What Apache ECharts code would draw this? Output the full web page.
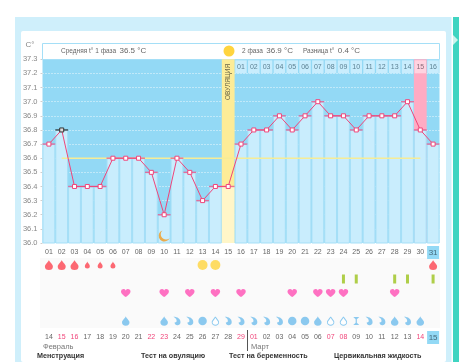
<!DOCTYPE html>
<html><head><meta charset="utf-8">
<style>html,body{margin:0;padding:0;background:#fff}#c{width:459px;height:362px}</style>
<script src="https://cdn.jsdelivr.net/npm/echarts@6/dist/echarts.min.js"></script></head>
<body><div id="c"></div>
<script>
const cycleDays=['01','02','03','04','05','06','07','08','09','10','11','12','13','14','15','16','17','18','19','20','21','22','23','24','25','26','27','28','29','30','31'];
const dates=['14','15','16','17','18','19','20','21','22','23','24','25','26','27','28','29','01','02','03','04','05','06','07','08','09','10','11','12','13','14','15'];
const weekendDates=[2,3,9,10,16,17,23,24,30];
const temps=[36.7,36.8,36.4,36.4,36.4,36.6,36.6,36.6,36.5,36.2,36.6,36.5,36.3,36.4,36.4,36.7,36.8,36.8,36.9,36.8,36.9,37.0,36.9,36.9,36.8,36.9,36.9,36.9,37.0,36.8,36.7];
const phase2Days=['01','02','03','04','05','06','07','08','09','10','11','12','13','14','15','16'];
const coverTemp=36.6, coverFrom=2, coverTo=30;
const ovulationDay=15, highlightDay=30, selectedDay=2, sleepDay=10, sleepTemp=36.05;
const rows=['mens','test','love','other','fluid'];
const mensHeavy=[1,2,3,31], mensLight=[4,5,6], ovuTest=[13,14], pregTest=[24,25,28,29,31];
const hearts=[7,10,12,14,16,20,22,23,24,28];
const fluidDrop=[7,10,22,28,30], fluidCurl=[11,12,15,16,17,18,19,26,27,29], fluidRound=[13,20,21], fluidOutline=[14,23,24], fluidStem=[25];
const yTicksMin=36.0, yTicksMax=37.3;
const legendNames=['Менструация','Тест на овуляцию','Тест на беременность','Цервикальная жидкость'];
const monthNames=['Февраль','Март'];

const FONT='"Liberation Sans",sans-serif';
const NARROW='"Liberation Sans Narrow","Liberation Sans",sans-serif';
const DROP='path://M5 0C5 2 0 6 0 9A5 5 0 0 0 10 9C10 6 5 2 5 0Z';
const HEART='path://M5 9C1 6 0 4 0 2.6A2.6 2.6 0 0 1 5 1.5A2.6 2.6 0 0 1 10 2.6C10 4 9 6 5 9Z';
const CURL='path://M0 0C6 0 10 3 10 7A4.2 4.2 0 0 1 1.6 8A4 4 0 0 0 4.5 6.5C5 4 3 1.5 0 0Z';
const MOON='path://M5 0A6.5 6.5 0 1 0 13 9A6 6 0 0 1 5 0Z';
const STEM='path://M0 0H10L6 3V8L10 11H0L4 8V3Z';
const L=42.5,W=397,T=59.3,H=183.7;

function rowSeries(days,row,symbol,size,style){
  return {type:'scatter',xAxisIndex:2,yAxisIndex:1,symbol,symbolSize:size,itemStyle:style,z:5,silent:true,
    data:days.map(d=>[d-1,row])};
}
const band=temps.map((_,i)=>(i+1===ovulationDay||i+1===highlightDay)?{value:yTicksMax,itemStyle:{color:i+1===ovulationDay?'#fdec97':'#ffabc3'}}:null);
const option={
  animation:false,
  backgroundColor:'#fff',
  grid:[
    {left:L,top:T,width:W,height:H,show:true,backgroundColor:'#93d9f5',borderColor:'#93d9f5',borderWidth:0,containLabel:false},
    {left:L,top:258,width:W,height:70,show:false}
  ],
  xAxis:[
    {type:'category',gridIndex:0,data:cycleDays,axisLine:{show:false},axisTick:{show:false},
      splitLine:{show:false},
      axisLabel:{interval:0,margin:3,hideOverlap:false,
        formatter:(v,i)=>i===30?'{h|'+v+'}':'{n|'+v+'}',
        rich:{n:{fontFamily:FONT,fontSize:7,color:'#666',height:13,lineHeight:13},
              h:{fontFamily:FONT,fontSize:8,color:'#44697a',backgroundColor:'#93d9f5',width:12,height:13,lineHeight:13,align:'center'}}}},
    {type:'category',gridIndex:0,position:'top',z:9,data:cycleDays,axisLine:{show:false},axisTick:{show:false},
      axisLabel:{inside:true,interval:0,margin:1,hideOverlap:false,
        formatter:(v,i)=>{if(i<15)return '';const t=phase2Days[i-15];return i+1===highlightDay?'{p|'+t+'}':'{c|'+t+'}';},
        rich:{c:{fontFamily:FONT,fontSize:7,color:'#5c8193',backgroundColor:'#c9edfd',width:11.5,height:13,lineHeight:13,align:'center'},
              p:{fontFamily:FONT,fontSize:7,color:'#8a6a78',backgroundColor:'#ffd3e0',width:11.5,height:13,lineHeight:13,align:'center'}}}},
    {type:'category',gridIndex:1,data:dates,axisLine:{show:false},axisTick:{show:false},
      axisLabel:{interval:0,margin:3,hideOverlap:false,
        formatter:(v,i)=>i===30?'{h|'+v+'}':(weekendDates.includes(i+1)?'{r|'+v+'}':'{n|'+v+'}'),
        rich:{n:{fontFamily:FONT,fontSize:7,color:'#666',height:13,lineHeight:13},
              r:{fontFamily:FONT,fontSize:7,color:'#f0457a',height:13,lineHeight:13},
              h:{fontFamily:FONT,fontSize:8,color:'#44697a',backgroundColor:'#93d9f5',width:12,height:13,lineHeight:13,align:'center'}}}}
  ],
  yAxis:[
    {type:'value',gridIndex:0,min:yTicksMin,max:yTicksMax,interval:0.1,
      axisLine:{show:false},axisTick:{show:true,length:2,lineStyle:{color:'#cfcfcf'}},
      splitLine:{show:true,lineStyle:{color:'#ffffff',type:[1,2],width:1,opacity:.85}},
      axisLabel:{fontFamily:NARROW,fontSize:7.5,color:'#888',margin:5,formatter:v=>v.toFixed(1)}},
    {type:'category',gridIndex:1,data:rows,inverse:true,axisLine:{show:false},axisTick:{show:false},axisLabel:{show:false},splitLine:{show:false}}
  ],
  series:[
    {type:'bar',xAxisIndex:0,yAxisIndex:0,data:band,barWidth:'100%',barGap:'-100%',z:2,silent:true},
    {type:'bar',xAxisIndex:0,yAxisIndex:0,barWidth:'100%',barGap:'-100%',z:3,silent:true,
      itemStyle:{color:'#c9edfd',borderColor:'#a5dff7',borderWidth:1},
      data:temps.map((v,i)=>i+1===ovulationDay?{value:v,itemStyle:{color:'#fff6c8',borderWidth:0}}:v)},
    {type:'line',xAxisIndex:0,yAxisIndex:0,z:4,silent:true,symbol:'none',lineStyle:{color:'#f6ec96',width:1.5},
      data:temps.map((_,i)=>(i+1>=coverFrom&&i+1<=coverTo)?coverTemp:null)},
    {type:'scatter',xAxisIndex:0,yAxisIndex:0,z:5,silent:true,symbol:'rect',symbolSize:[12.8,1.4],
      itemStyle:{color:'#e8558a'},
      data:temps.map((v,i)=>i+1===selectedDay?{value:[i,v],itemStyle:{color:'#222'}}:[i,v])},
    {type:'line',xAxisIndex:0,yAxisIndex:0,z:6,silent:true,symbol:'rect',symbolSize:4,showAllSymbol:true,
      lineStyle:{color:'#f0457a',width:1},
      itemStyle:{color:'#fff',borderColor:'#f0457a',borderWidth:1},
      data:temps.map((v,i)=>i+1===selectedDay?{value:v,itemStyle:{color:'#ddd',borderColor:'#333'}}:v)},
    {type:'scatter',xAxisIndex:0,yAxisIndex:0,z:7,silent:true,symbol:MOON,symbolSize:[11,11],
      itemStyle:{color:'#f39a1e'},data:[[sleepDay-1,sleepTemp]]},
    rowSeries(mensHeavy,'mens',DROP,[8,10],{color:'#fc4350'}),
    rowSeries(mensLight,'mens',DROP,[5,7],{color:'#fc4350'}),
    rowSeries(ovuTest,'mens','circle',10,{color:'#ffd43e'}),
    rowSeries(pregTest,'test','rect',[3,9],{color:'#9cc31d'}),
    rowSeries(hearts,'love',HEART,[9.5,8],{color:'#ff4fb4'}),
    rowSeries(fluidDrop,'fluid',DROP,[7.5,9.5],{color:'#6fbdec'}),
    rowSeries(fluidCurl,'fluid',CURL,[7,8.5],{color:'#6fbdec'}),
    rowSeries(fluidRound,'fluid','circle',8.5,{color:'#6fbdec'}),
    rowSeries(fluidOutline,'fluid',DROP,[6.5,8.5],{color:'#fff',borderColor:'#6fbdec',borderWidth:1}),
    rowSeries(fluidStem,'fluid',STEM,[6,8],{color:'#6fbdec'})
  ],
  graphic:{elements:[
    {type:'rect',z:-10,silent:true,shape:{x:15,y:17,width:436.5,height:345},style:{fill:'#cfeffb'}},
    {type:'rect',z:-9,silent:true,shape:{x:21,y:31,width:425,height:331,r:2},style:{fill:'#fff'}},
    {type:'rect',z:-9,silent:true,shape:{x:453,y:17,width:6,height:345},style:{fill:'#3fd4c1'}},
    {type:'polygon',z:-8,silent:true,shape:{points:[[453,35],[458,40],[453,45]]},style:{fill:'#cdf3ed'}},
    {type:'rect',z:-8,silent:true,shape:{x:40,y:258,width:400,height:70},style:{fill:'#fafafa'}},
    {type:'rect',z:1,silent:true,shape:{x:42.5,y:43.5,width:397,height:16},style:{fill:'#fff',stroke:'#a5dff7',lineWidth:1}},
    {type:'circle',z:20,silent:true,shape:{cx:229,cy:51,r:5.5},style:{fill:'#ffd43e'}},
    {type:'text',z:20,silent:true,x:30,y:45,style:{text:'С°',font:'8px '+FONT,fill:'#888',align:'center',verticalAlign:'middle'}},
    {type:'text',z:20,silent:true,x:61,y:51,style:{rich:{a:{font:'6.5px '+FONT,fill:'#666'},b:{font:'8px '+NARROW,fill:'#666'}},text:'{a|Средняя t° 1 фаза} {b|36.5 °C}',verticalAlign:'middle'}},
    {type:'text',z:20,silent:true,x:242,y:51,style:{rich:{a:{font:'6.5px '+FONT,fill:'#666'},b:{font:'8px '+NARROW,fill:'#666'}},text:'{a|2 фаза} {b|36.9 °C}',verticalAlign:'middle'}},
    {type:'text',z:20,silent:true,x:303,y:51,style:{rich:{a:{font:'6.5px '+FONT,fill:'#666'},b:{font:'8px '+NARROW,fill:'#666'}},text:'{a|Разница t°} {b|0.4 °C}',verticalAlign:'middle'}},
    {type:'text',z:20,silent:true,x:228.5,y:82,rotation:Math.PI/2,style:{text:'ОВУЛЯЦИЯ',font:'6.5px '+FONT,fill:'#6f6a4a',align:'center',verticalAlign:'middle'}},
    {type:'line',z:20,silent:true,shape:{x1:247.5,y1:330,x2:247.5,y2:351},style:{stroke:'#555',lineWidth:1}},
    {type:'text',z:20,silent:true,x:43,y:347,style:{text:monthNames[0],font:'7.5px '+FONT,fill:'#777',verticalAlign:'middle'}},
    {type:'text',z:20,silent:true,x:251,y:347,style:{text:monthNames[1],font:'7.5px '+FONT,fill:'#777',verticalAlign:'middle'}},
    {type:'text',z:20,silent:true,x:37,y:356.5,style:{text:legendNames[0],font:'bold 7.2px '+FONT,fill:'#333',verticalAlign:'middle'}},
    {type:'text',z:20,silent:true,x:141,y:356.5,style:{text:legendNames[1],font:'bold 7.2px '+FONT,fill:'#333',verticalAlign:'middle'}},
    {type:'text',z:20,silent:true,x:229,y:356.5,style:{text:legendNames[2],font:'bold 7.2px '+FONT,fill:'#333',verticalAlign:'middle'}},
    {type:'text',z:20,silent:true,x:334,y:356.5,style:{text:legendNames[3],font:'bold 7.2px '+FONT,fill:'#333',verticalAlign:'middle'}}
  ]}
};
echarts.init(document.getElementById('c'),null,{renderer:'canvas'}).setOption(option);
</script></body></html>
